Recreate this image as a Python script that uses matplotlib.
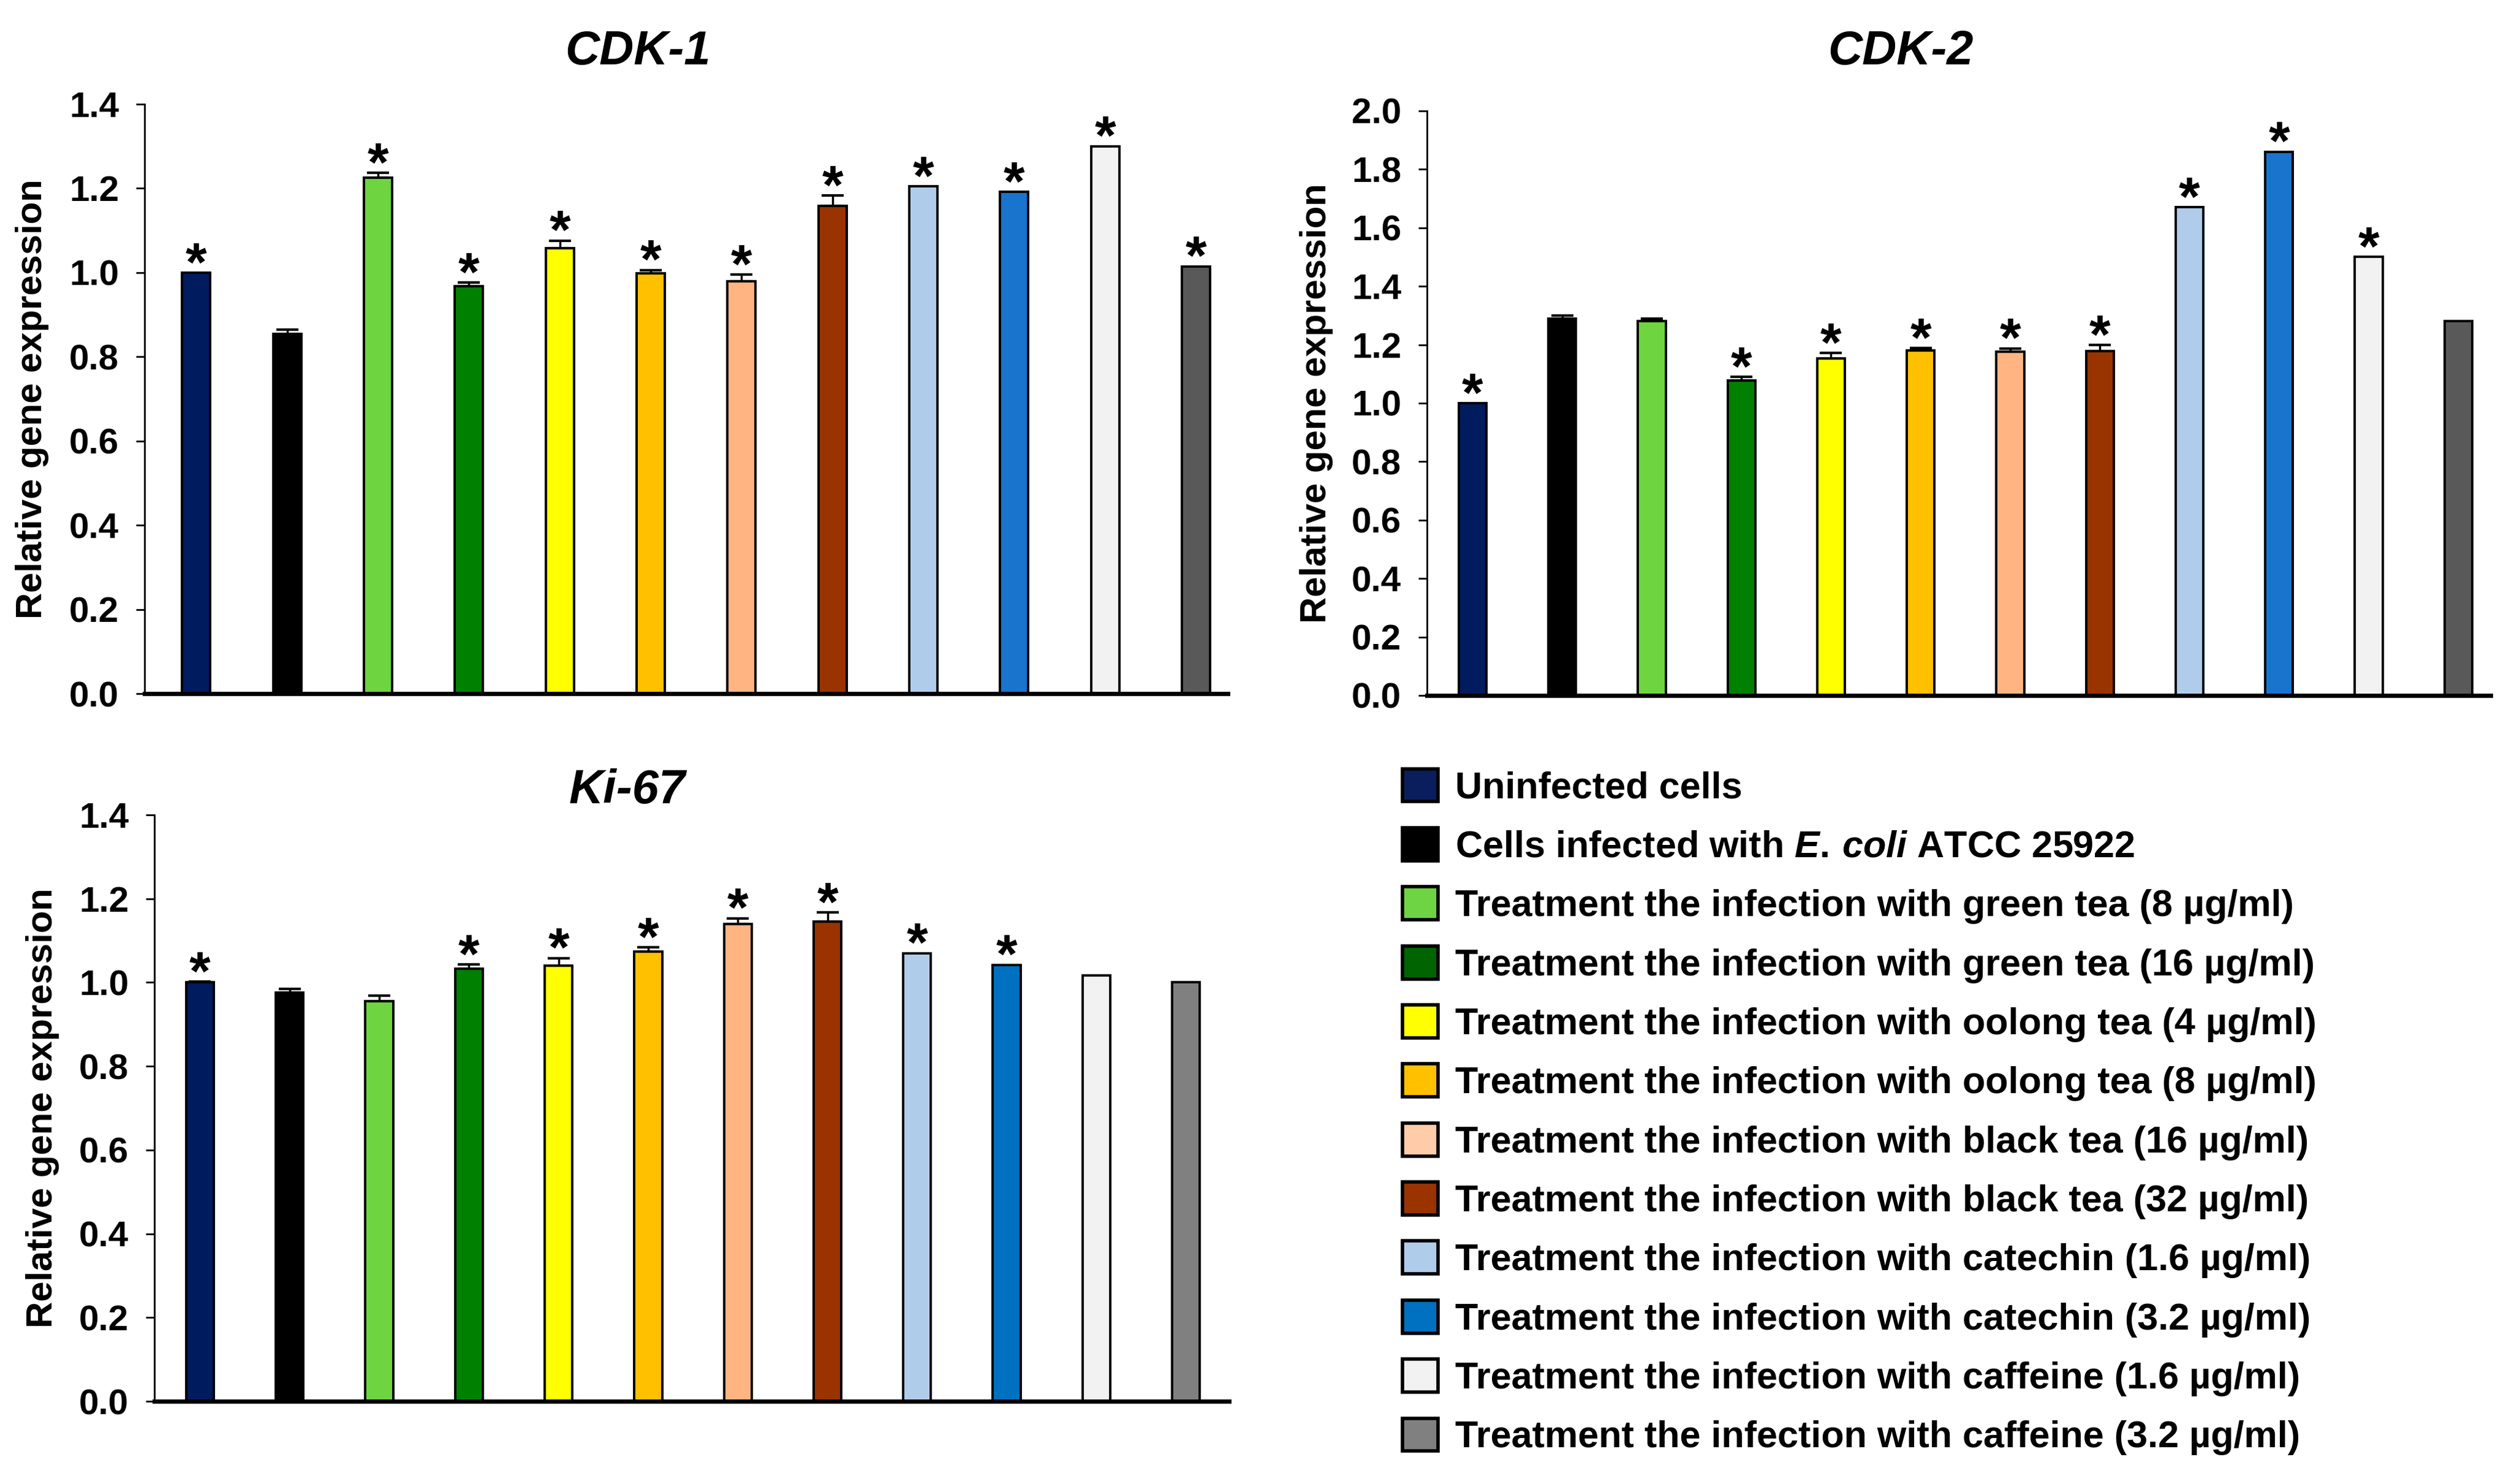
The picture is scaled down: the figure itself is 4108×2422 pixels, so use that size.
import numpy as np
import matplotlib
matplotlib.use("Agg")
import matplotlib.pyplot as plt
from matplotlib.patches import Patch

plt.rcParams['font.family'] = ['Liberation Sans', 'DejaVu Sans']
plt.rcParams['font.weight'] = 'bold'
plt.rcParams['mathtext.fontset'] = 'custom'
plt.rcParams['mathtext.it'] = 'Liberation Sans:italic:bold'
plt.rcParams['mathtext.rm'] = 'Liberation Sans:bold'

groups = ['Uninfected cells',
          r'Cells infected with $\mathit{E.\!\ coli}$ ATCC 25922',
          'Treatment the infection with green tea (8 µg/ml)',
          'Treatment the infection with green tea (16 µg/ml)',
          'Treatment the infection with oolong tea (4 µg/ml)',
          'Treatment the infection with oolong tea (8 µg/ml)',
          'Treatment the infection with black tea (16 µg/ml)',
          'Treatment the infection with black tea (32 µg/ml)',
          'Treatment the infection with catechin (1.6 µg/ml)',
          'Treatment the infection with catechin (3.2 µg/ml)',
          'Treatment the infection with caffeine (1.6 µg/ml)',
          'Treatment the infection with caffeine (3.2 µg/ml)']

cdk1_mean = [1.00, 0.855, 1.225, 0.968, 1.058, 0.998, 0.980, 1.158, 1.205, 1.192, 1.300, 1.015]
cdk1_err = [0.0, 0.010, 0.012, 0.008, 0.018, 0.008, 0.015, 0.025, 0.0, 0.0, 0.0, 0.0]
cdk1_sig = [1, 0, 1, 1, 1, 1, 1, 1, 1, 1, 1, 1]

cdk2_mean = [1.00, 1.29, 1.28, 1.077, 1.153, 1.180, 1.175, 1.178, 1.670, 1.860, 1.500, 1.280]
cdk2_err = [0.0, 0.010, 0.010, 0.012, 0.018, 0.008, 0.012, 0.020, 0.0, 0.0, 0.0, 0.0]
cdk2_sig = [1, 0, 0, 1, 1, 1, 1, 1, 1, 1, 1, 0]

ki67_mean = [1.00, 0.975, 0.955, 1.033, 1.040, 1.074, 1.140, 1.145, 1.070, 1.042, 1.017, 1.000]
ki67_err = [0.002, 0.010, 0.013, 0.010, 0.018, 0.010, 0.013, 0.022, 0.0, 0.0, 0.0, 0.0]
ki67_sig = [1, 0, 0, 1, 1, 1, 1, 1, 1, 1, 0, 0]

cdk_colors = ['#001B5E', '#000000', '#6ED43F', '#008000', '#FFFF00', '#FFC000',
              '#FFB482', '#993300', '#B0CCEB', '#1874CD', '#F2F2F2', '#595959']
ki_colors = ['#001B5E', '#000000', '#6ED43F', '#008000', '#FFFF00', '#FFC000',
             '#FFB482', '#993300', '#B0CCEB', '#0070C0', '#F2F2F2', '#808080']
legend_colors = ['#0A1E5E', '#000000', '#6ED444', '#006400', '#FFFF00', '#FFC000',
                 '#FFCCAA', '#993300', '#B0CCEB', '#0070C0', '#F2F2F2', '#808080']

fig = plt.figure(figsize=(41.08, 24.22), dpi=100)


def draw_panel(rect, mean, err, sig, colors, ymax, xlim, title, title_xy):
    ax = fig.add_axes(rect)
    x = np.arange(len(mean))
    ax.bar(x, mean, width=0.31, color=colors, edgecolor='black', linewidth=2.8, zorder=2)
    for xi, m, e in zip(x, mean, err):
        if e > 0:
            ax.errorbar(xi, m, yerr=[[0], [e]], fmt='none', ecolor='black',
                        elinewidth=2.5, capsize=13, capthick=3, zorder=3)
    for xi, m, e, s in zip(x, mean, err, sig):
        if s:
            ax.annotate('*', (xi, m + e), xytext=(0, -9), textcoords='offset points',
                        ha='center', va='baseline', fontsize=64, fontweight='bold')
    ax.set_xlim(*xlim)
    ax.set_ylim(0, ymax)
    ticks = np.arange(0, ymax + 0.001, 0.2)
    ax.set_yticks(ticks)
    ax.set_yticklabels([f'{v:.1f}' for v in ticks])
    ax.set_xticks([])
    ax.spines['top'].set_visible(False)
    ax.spines['right'].set_visible(False)
    ax.spines['left'].set_linewidth(2)
    ax.spines['bottom'].set_linewidth(5)
    ax.tick_params(axis='y', length=10, width=2, pad=20, labelsize=42)
    ax.set_ylabel('Relative gene expression', fontsize=43, fontweight='bold')
    ax.yaxis.set_label_coords(-0.088, 0.5)
    fig.text(title_xy[0], title_xy[1], title, fontsize=56, fontweight='bold',
             fontstyle='italic', ha='center', va='center')
    return ax


draw_panel([0.0574, 0.5326, 0.4304, 0.3972], cdk1_mean, cdk1_err, cdk1_sig, cdk_colors,
           1.4, (-0.57, 11.35), 'CDK-1', (0.2535, 0.965))
draw_panel([0.5669, 0.5314, 0.4226, 0.3939], cdk2_mean, cdk2_err, cdk2_sig, cdk_colors,
           2.0, (-0.51, 11.36), 'CDK-2', (0.7552, 0.965))
draw_panel([0.0613, 0.0557, 0.4270, 0.3952], ki67_mean, ki67_err, ki67_sig, ki_colors,
           1.4, (-0.51, 11.48), 'Ki-67', (0.2493, 0.467))

handles = [Patch(facecolor=c, edgecolor='black', linewidth=4) for c in legend_colors]
fig.legend(handles, groups, loc='upper left', bbox_to_anchor=(0.5573, 0.482),
           frameon=False, fontsize=44, handlelength=0.95, handleheight=0.98,
           handletextpad=0.45, labelspacing=0.58, borderpad=0, borderaxespad=0)

fig.savefig('out.png', dpi=100)
